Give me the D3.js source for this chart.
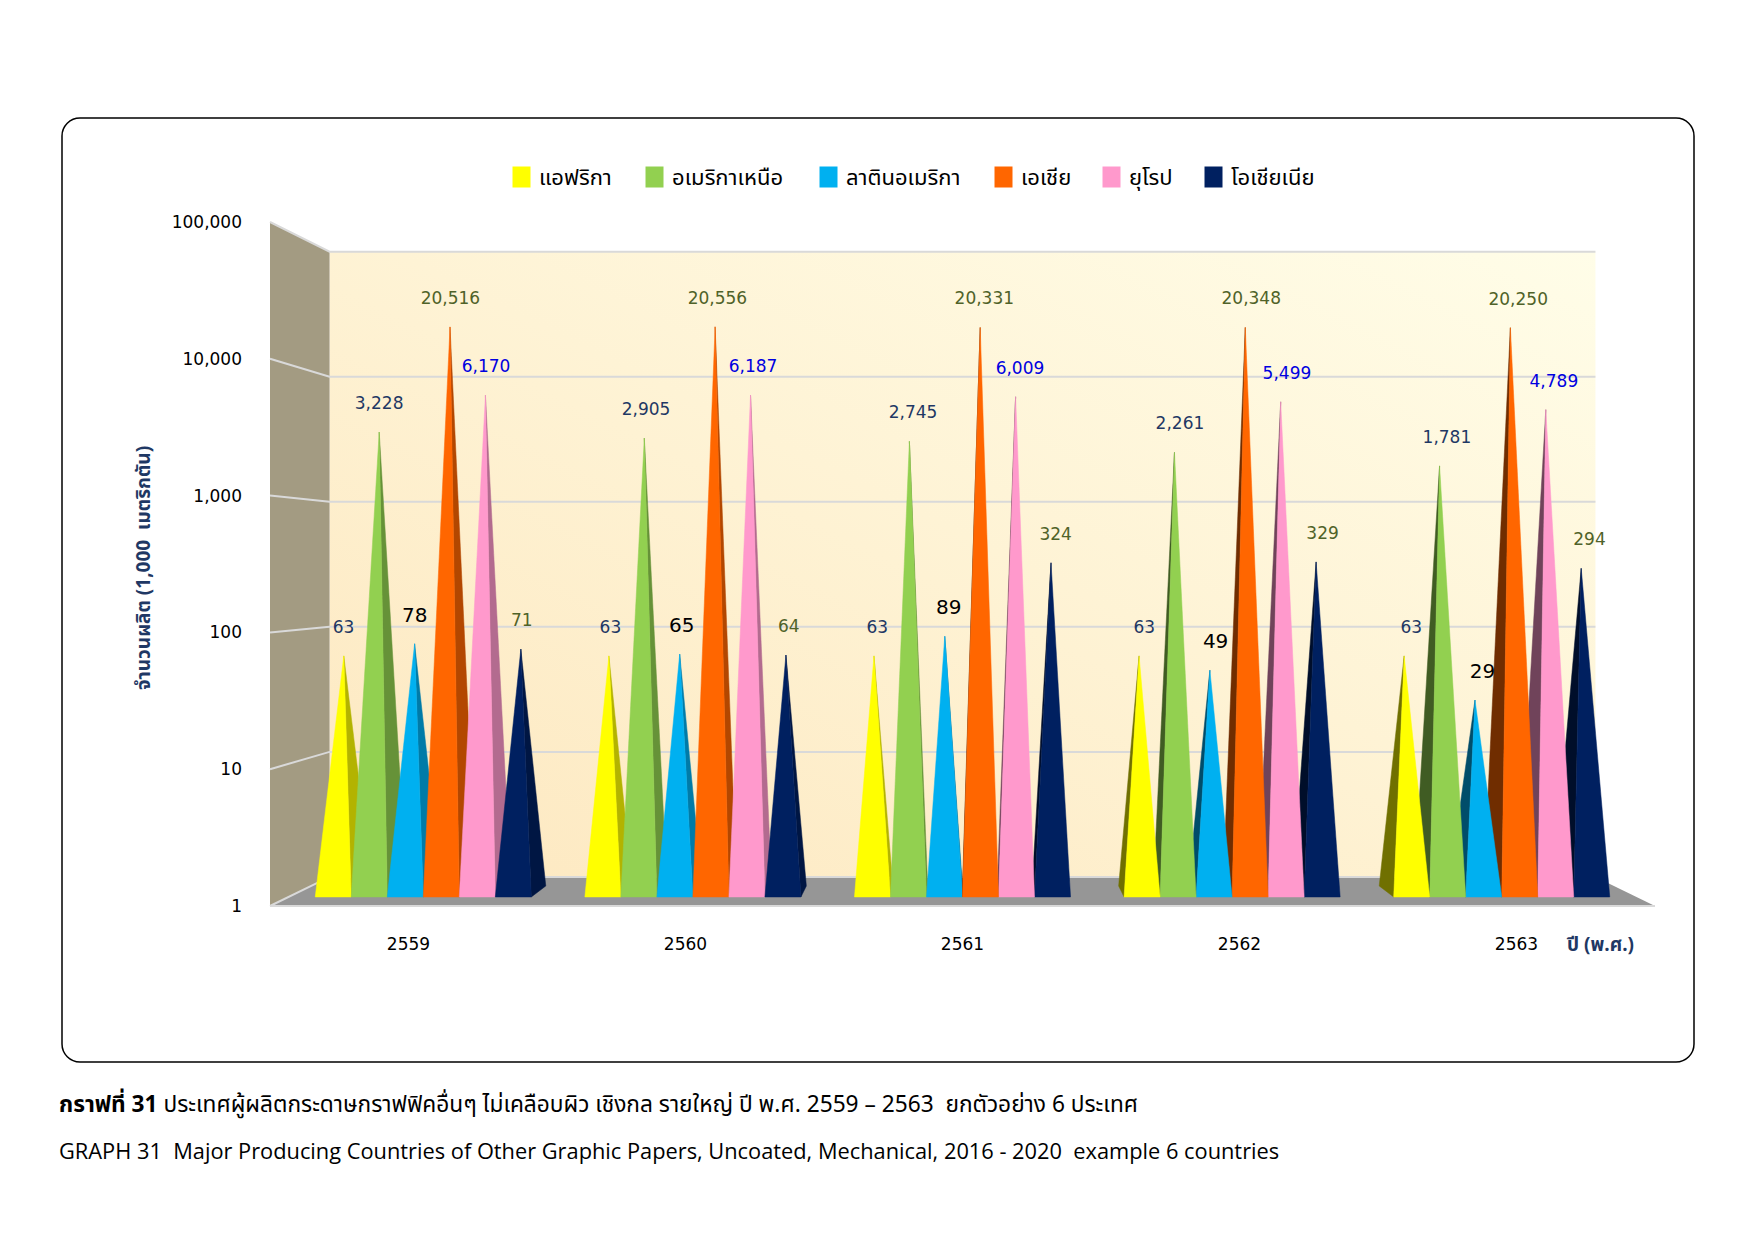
<!DOCTYPE html>
<html>
<head>
<meta charset="utf-8">
<script src="https://cdn.jsdelivr.net/npm/d3@7"></script>
<style>
  body { margin: 0; background: #fff; }
  text { font-family: "DejaVu Sans", sans-serif; }
  .th { font-family: "Noto Sans Thai", "Tahoma", "Noto Sans", "DejaVu Sans", sans-serif; }
</style>
</head>
<body>
<svg id="chart"></svg>
<script>
// data
const years = ["2559", "2560", "2561", "2562", "2563"];
const regions = ["แอฟริกา", "อเมริกาเหนือ", "ลาตินอเมริกา", "เอเชีย", "ยุโรป", "โอเชียเนีย"];
const africa = [63, 63, 63, 63, 63];
const northAmerica = [3228, 2905, 2745, 2261, 1781];
const latinAmerica = [78, 65, 89, 49, 29];
const asia = [20516, 20556, 20331, 20348, 20250];
const europe = [6170, 6187, 6009, 5499, 4789];
const oceania = [71, 64, 324, 329, 294];
const yTicks = [1, 10, 100, 1000, 10000, 100000];
const series = [africa, northAmerica, latinAmerica, asia, europe, oceania];

const colors = ["#ffff00", "#92d050", "#00b0f0", "#ff6600", "#ff99cc", "#002060"];
const labelColors = ["#1f3864", "#1f3864", "#000000", "#4f6228", "#0000e0", "#4f6228"];

const width = 1755, height = 1241;

const svg = d3.select("#chart")
    .attr("width", width)
    .attr("height", height)
    .attr("viewBox", [0, 0, width, height]);

// front plane of the 3d box
const x = d3.scaleBand().domain(years).range([270, 1655]);
const y = d3.scaleLog().domain([1, 100000]).range([906, 222]);

// simple perspective toward the middle of the plot
const VX = 962.5, VY = 568, K = 0.086;
function proj(X, Y, z) {
    const s = 1 - K * z;
    return [VX + (X - VX) * s, VY + (Y - VY) * s];
}

const defs = svg.append("defs");
const wallGrad = defs.append("linearGradient")
    .attr("id", "wall").attr("x1", 0).attr("y1", 1).attr("x2", 1).attr("y2", 0);
wallGrad.append("stop").attr("offset", "0%").attr("stop-color", "#fde8c0");
wallGrad.append("stop").attr("offset", "100%").attr("stop-color", "#fffde8");

// frame
svg.append("rect")
    .attr("x", 62).attr("y", 118)
    .attr("width", 1632).attr("height", 944)
    .attr("rx", 18)
    .attr("fill", "none")
    .attr("stroke", "#000")
    .attr("stroke-width", 1.5);

const [x0, x1] = x.range();
const [yb, yt] = y.range();
const poly = pts => "M" + pts.map(p => p.join(",")).join("L") + "Z";

// walls and floor
svg.append("path")
    .attr("d", poly([proj(x0, yt, 1), proj(x1, yt, 1), proj(x1, yb, 1), proj(x0, yb, 1)]))
    .attr("fill", "url(#wall)");
svg.append("path")
    .attr("d", poly([proj(x0, yt, 0), proj(x0, yt, 1), proj(x0, yb, 1), proj(x0, yb, 0)]))
    .attr("fill", "#a39b82");
svg.append("path")
    .attr("d", poly([proj(x0, yb, 0), proj(x0, yb, 1), proj(x1, yb, 1), proj(x1, yb, 0)]))
    .attr("fill", "#969696");
svg.append("line")
    .attr("x1", x0).attr("y1", yb).attr("x2", x1).attr("y2", yb)
    .attr("stroke", "#d9d9d9").attr("stroke-width", 2);

// gridlines
const grid = svg.append("g")
    .attr("fill", "none")
    .attr("stroke", "#d9d9d9")
    .attr("stroke-width", 2);
grid.selectAll("path")
    .data(yTicks)
    .join("path")
    .attr("d", v => "M" + [proj(x0, y(v), 0), proj(x0, y(v), 1), proj(x1, y(v), 1)]
        .map(p => p.join(",")).join("L"));

// y tick labels
svg.append("g")
    .selectAll("text")
    .data(yTicks)
    .join("text")
    .attr("x", 242)
    .attr("y", v => y(v))
    .attr("dy", "0.35em")
    .attr("text-anchor", "end")
    .attr("font-size", 17)
    .attr("fill", "#000")
    .text(d3.format(","));

// x labels
svg.append("g")
    .selectAll("text")
    .data(years)
    .join("text")
    .attr("x", d => x(d) + x.bandwidth() / 2)
    .attr("y", 944)
    .attr("dy", "0.35em")
    .attr("text-anchor", "middle")
    .attr("font-size", 17)
    .text(d => d);

// cones
const cw = 37, zf = 0.31, zb = 0.69, zc = 0.5;
const cones = [];
years.forEach((yr, j) => {
    const start = x(yr) + (x.bandwidth() - cw * regions.length) / 2;
    series.forEach((vals, i) => {
        const X = start + i * cw;
        cones.push({ i, j, v: vals[j], X, cx: X + cw / 2 });
    });
});
cones.sort((a, b) => Math.abs(b.cx - VX) - Math.abs(a.cx - VX));

const cross = (a, b, c) => (b[0] - a[0]) * (c[1] - a[1]) - (b[1] - a[1]) * (c[0] - a[0]);

const coneG = svg.append("g");
cones.forEach(d => {
    const A = proj(d.cx, y(d.v), zc);
    const FL = proj(d.X, yb, zf), FR = proj(d.X + cw, yb, zf);
    const BL = proj(d.X, yb, zb), BR = proj(d.X + cw, yb, zb);
    const base = d3.color(colors[d.i]);
    const faces = [
        { pts: [BL, FL, A], fill: base.darker(2.3) },
        { pts: [FR, BR, A], fill: base.darker(1) },
        { pts: [FL, FR, A], fill: base }
    ].filter(f => cross(...f.pts) < 0);
    coneG.append("g")
        .selectAll("path")
        .data(faces)
        .join("path")
        .attr("d", f => poly(f.pts))
        .attr("fill", f => f.fill)
        .attr("stroke", f => f.fill)
        .attr("stroke-width", 0.5);
    d.apex = A;
});

// value labels
svg.append("g")
    .selectAll("text")
    .data(cones)
    .join("text")
    .attr("x", d => d.apex[0] + 4 + (d.apex[0] - VX) * 0.007)
    .attr("y", d => d.apex[1] - 29)
    .attr("dy", "0.35em")
    .attr("text-anchor", "middle")
    .attr("font-size", d => d.i === 2 ? 20 : 17)
    .attr("fill", d => labelColors[d.i])
    .text(d => d3.format(",")(d.v));

// legend
const legendX = [512, 645, 819, 994, 1102, 1204];
const legend = svg.append("g")
    .selectAll("g")
    .data(regions)
    .join("g")
    .attr("transform", (d, i) => `translate(${legendX[i]},166)`);
legend.append("rect")
    .attr("width", 19).attr("height", 22)
    .attr("fill", (d, i) => colors[i])
    .attr("stroke", "#fff");
legend.append("text")
    .attr("class", "th")
    .attr("x", 27).attr("y", 11)
    .attr("dy", "0.35em")
    .attr("font-size", 22)
    .text(d => d);

// axis titles
svg.append("text")
    .attr("class", "th")
    .attr("transform", "translate(143,568) rotate(-90)")
    .attr("text-anchor", "middle")
    .attr("dy", "0.35em")
    .attr("font-size", 19)
    .attr("font-weight", "bold")
    .attr("fill", "#1f3864")
    .style("white-space", "pre")
    .text("จำนวนผลิต (1,000  เมตริกตัน)");

svg.append("text")
    .attr("class", "th")
    .attr("x", 1567).attr("y", 944)
    .attr("dy", "0.35em")
    .attr("font-size", 19)
    .attr("font-weight", "bold")
    .attr("fill", "#1f3864")
    .text("ปี (พ.ศ.)");

// captions
const cap1 = svg.append("text")
    .attr("class", "th")
    .attr("x", 59).attr("y", 1104)
    .attr("dy", "0.35em")
    .attr("font-size", 22.7)
    .style("white-space", "pre");
cap1.append("tspan").attr("font-weight", "bold").text("กราฟที่ 31");
cap1.append("tspan").text(" ประเทศผู้ผลิตกระดาษกราฟฟิคอื่นๆ ไม่เคลือบผิว เชิงกล รายใหญ่ ปี พ.ศ. 2559 – 2563  ยกตัวอย่าง 6 ประเทศ");

svg.append("text")
    .attr("x", 59).attr("y", 1151)
    .attr("dy", "0.35em")
    .attr("font-size", 21.8)
    .style("font-family", "'Open Sans', sans-serif")
    .style("white-space", "pre")
    .text("GRAPH 31  Major Producing Countries of Other Graphic Papers, Uncoated, Mechanical, 2016 - 2020  example 6 countries");
</script>
</body>
</html>
